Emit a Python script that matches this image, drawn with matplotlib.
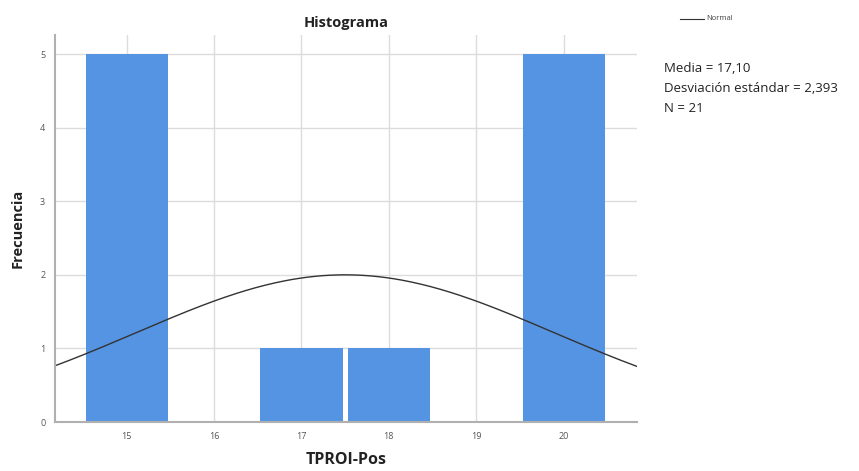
import numpy as np
import matplotlib.pyplot as plt

# datos del histograma
valores = [15, 17, 18, 20]
frecuencias = [5, 1, 1, 5]
xticks = [15, 16, 17, 18, 19, 20]
yticks = [0, 1, 2, 3, 4, 5]

# curva normal (centro, desviación, área)
curva_centro = 17.5
curva_sd = 2.393
curva_n = 12

lineas_stats = ["Media = 17,10", "Desviación estándar = 2,393", "N = 21"]

plt.rcParams['font.family'] = ['Open Sans', 'DejaVu Sans']

fig = plt.figure(figsize=(8.59, 4.71), dpi=100)
ax = fig.add_axes([0.064, 0.104, 0.6776, 0.8217])

ax.set_axisbelow(True)
ax.grid(True, color='#dcdcdc', linewidth=1.0)

ax.bar(valores, frecuencias, width=0.94, color='#5594e3', edgecolor='none')

xs = np.linspace(14.18, 20.84, 300)
ys = curva_n / (curva_sd * np.sqrt(2 * np.pi)) * np.exp(-0.5 * ((xs - curva_centro) / curva_sd) ** 2)
ax.plot(xs, ys, color='#333333', linewidth=1.0)

ax.set_xlim(14.18, 20.84)
ax.set_ylim(0, 5.26)
ax.set_xticks(xticks)
ax.set_yticks(yticks)
ax.tick_params(length=0, labelsize=6.5, colors='#555555', pad=7)

for s in ['top', 'right']:
    ax.spines[s].set_visible(False)
for s in ['left', 'bottom']:
    ax.spines[s].set_color('#b0b0b0')
    ax.spines[s].set_linewidth(1.5)

ax.set_xlabel('TPROI-Pos', fontsize=11.5, fontweight='bold', color='#222222', labelpad=8)
ax.set_ylabel('Frecuencia', fontsize=10.5, fontweight='bold', color='#222222', labelpad=11)
ax.set_title('Histograma', fontsize=10.5, fontweight='bold', color='#222222', pad=6)

# leyenda "Normal"
fig.lines.append(plt.Line2D([680 / 859, 704 / 859], [1 - 19 / 471, 1 - 19 / 471],
                            transform=fig.transFigure, color='#333333', linewidth=0.8))
fig.text(706 / 859, 1 - 19 / 471, 'Normal', fontsize=5.5, color='#444444', va='center')

for i, linea in enumerate(lineas_stats):
    fig.text(664 / 859, 1 - (68 + 20 * i) / 471, linea, fontsize=9.5, color='#222222', va='center')

fig.savefig('out.png', dpi=100)
